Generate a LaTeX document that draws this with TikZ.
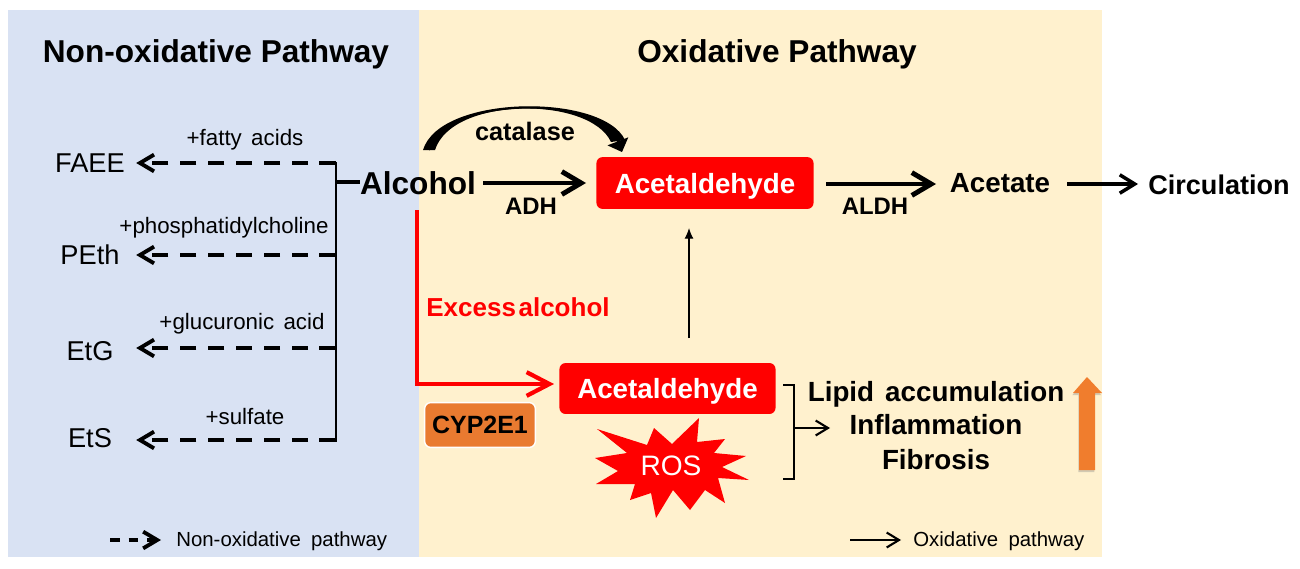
\documentclass[tikz,border=0pt]{standalone}
\usepackage{fontspec}
\setmainfont{Liberation Sans}
\usetikzlibrary{arrows.meta,shadows}
\tikzset{
  >={Straight Barb[length=8pt,width=9.5pt,line width=2.2pt]},
  titletext/.style={font=\bfseries\fontsize{18}{21}\selectfont,inner sep=0},
  metabolite/.style={font=\fontsize{15.5}{18}\selectfont,inner sep=0,minimum width=52.2pt},
  substrate/.style={font=\fontsize{12.7}{15}\selectfont\spaceskip .42em\relax,inner sep=0},
  enzyme/.style={font=\bfseries\fontsize{13.6}{16}\selectfont,inner sep=0},
  mainstep/.style={font=\bfseries\fontsize{15.8}{19}\selectfont,inner sep=0},
  redbox/.style={draw=none,fill=red,rounded corners=3.5pt,text=white,font=\bfseries\fontsize{15.8}{19}\selectfont,inner sep=0},
  legendtext/.style={font=\fontsize{11.6}{14}\selectfont\spaceskip .5em\relax,inner sep=0,anchor=west},
  dashline/.style={line width=2.3pt,dash pattern=on 9.4pt off 6.5pt},
  mainarrow/.style={line width=2.8pt,-{Straight Barb[length=11pt,width=13pt,line width=2.8pt]}},
  thinarrow/.style={line width=1.2pt,-{Straight Barb[length=7pt,width=8.5pt,line width=1.2pt]}},
}
\begin{document}
\begin{tikzpicture}[x=0.02cm,y=-0.02cm]
\useasboundingbox (0,0) rectangle (1300,568);
\fill[white] (0,0) rectangle (1300,568);
\fill[fill={rgb,255:red,217;green,226;blue,243}] (8,10) rectangle (419,557);
\fill[fill={rgb,255:red,255;green,241;blue,206}] (419,10) rectangle (1102,557);

\node[titletext] (titleNon) at (216,54) {Non-oxidative Pathway};
\node[titletext] (titleOx) at (777,54) {Oxidative Pathway};

\node[metabolite] (faee) at (90,163) {FAEE};
\node[metabolite] (peth) at (90,255) {PEth};
\node[metabolite] (etg) at (90,351) {EtG};
\node[metabolite] (ets) at (90,438) {EtS};
\node[substrate] (fatty) at (245,140) {+fatty acids};
\node[substrate] (phos) at (224,228) {+phosphatidylcholine};
\node[substrate] (gluc) at (242,324) {+glucuronic acid};
\node[substrate] (sulf) at (245,417) {+sulfate};

\coordinate (branchA) at (336,163);
\coordinate (branchB) at (336,255);
\coordinate (branchC) at (336,348);
\coordinate (branchD) at (336,440);
\coordinate (branchE) at (336,182);
\draw[line width=1.7pt,line cap=rect] (branchA) -- (branchD);
\draw[dashline,->] (branchA) -- (branchA -| faee.east);
\draw[dashline,->] (branchB) -- (branchB -| peth.east);
\draw[dashline,->] (branchC) -- (branchC -| etg.east);
\draw[dashline,->] (branchD) -- (branchD -| ets.east);

\node[font=\bfseries\fontsize{18}{21}\selectfont,inner sep=0] (alcohol) at (418,183) {Alcohol};
\draw[line width=1.9pt] (alcohol.west |- branchE) -- (branchE);

\node[redbox,minimum width=123.6pt,minimum height=29.5pt,text depth=0pt] (acetTop) at (705,183) {Acetaldehyde};
\node[redbox,minimum width=123pt,minimum height=29pt,text depth=-3.4pt] (acetLow) at (667.5,388.5) {Acetaldehyde};
\node[mainstep] (acetate) at (1000,183) {Acetate};
\node[font=\bfseries\fontsize{15.4}{19}\selectfont,inner sep=0] (circ) at (1219,185) {Circulation};
\node[enzyme] (adh) at (531,206) {ADH};
\node[enzyme] (aldh) at (875,206) {ALDH};
\node[font=\bfseries\fontsize{14.4}{17}\selectfont,inner sep=0] (catalase) at (525,131) {catalase};

\coordinate (alcoholOut) at (483,183);
\coordinate (acetIn) at (586,183);
\draw[mainarrow] (alcoholOut) -- (acetIn);
\coordinate (acetOut) at (826,184);
\coordinate (acetateIn) at (936,184);
\draw[mainarrow] (acetOut) -- (acetateIn);
\coordinate (acetateOut) at (1067,184);
\coordinate (circIn) at (1138,184);
\draw[line width=2pt,-{Straight Barb[length=8.5pt,width=10.5pt,line width=2pt]}] (acetateOut) -- (circIn);

\coordinate (catStart) at (429,150);
\coordinate (catEnd) at (622,152);
\draw[line width=1pt,-{Triangle[length=6.5pt,width=12.5pt]}] (catStart) .. controls (446,95) and (600,95) .. (catEnd);
\fill (423,150) .. controls (440,94) and (603,93) .. (625,140) -- (611,142) .. controls (590,96) and (452,96) .. (435,150) -- cycle;

\coordinate (upStart) at (689,338);
\coordinate (upEnd) at (689,228);
\draw[line width=.6pt,-{Latex[length=6pt,width=5pt]}] (upStart) -- (upEnd);

\coordinate (redStart) at (417,210);
\coordinate (redCorner) at (417,384);
\coordinate (redEnd) at (554,384);
\draw[draw=red,line width=2.4pt,line join=miter,-{Straight Barb[length=13pt,width=13.5pt,line width=2.4pt]}] (redStart) -- (redCorner) -- (redEnd);
\node[font=\bfseries\fontsize{14.8}{18}\selectfont\spaceskip .1em\relax,text=red,inner sep=0] (excess) at (518,307) {Excess alcohol};

\node[draw=white,line width=.8pt,fill={rgb,255:red,233;green,122;blue,48},rounded corners=3.5pt,font=\bfseries\fontsize{14.2}{17}\selectfont,inner sep=0,minimum width=63pt,minimum height=25.5pt] (cyp) at (480,425) {CYP2E1};

\fill[red] (699,418) -- (697,442) -- (725,439) -- (714,453) -- (746,456) -- (722,467) -- (749,480) -- (718,478) -- (725,503) -- (705,490) -- (690,510) -- (673,490) -- (656,518) -- (651,493) -- (630,500) -- (635,484) -- (596,484) -- (618,471) -- (595,458) -- (627,453) -- (597,429) -- (647,445) -- (654,428) -- (672,444) -- cycle;
\node[font=\fontsize{16}{19}\selectfont,text=white,inner sep=0] (ros) at (671,466) {ROS};

\coordinate (brackA) at (783,385);
\coordinate (brackB) at (794,385);
\coordinate (brackC) at (794,479);
\coordinate (brackD) at (783,479);
\coordinate (brackMid) at (794,428);
\coordinate (brackOut) at (830,428);
\draw[line width=1.4pt] (brackA) -- (brackB) -- (brackC) -- (brackD);
\draw[thinarrow] (brackMid) -- (brackOut);

\node[mainstep,font=\bfseries\fontsize{15.8}{19}\selectfont\spaceskip .4em\relax] (lipid) at (936,394) {Lipid accumulation};
\node[mainstep] (inflam) at (936,425) {Inflammation};
\node[mainstep] (fibro) at (936,460) {Fibrosis};

\fill[fill={rgb,255:red,240;green,125;blue,45},drop shadow={shadow xshift=-.4pt,shadow yshift=-1.2pt,opacity=.35}] (1087,377) -- (1102,393) -- (1095,393) -- (1095,470) -- (1079,470) -- (1079,393) -- (1073,393) -- cycle;

\coordinate (legDashA) at (110,540);
\coordinate (legDashB) at (161,540);
\draw[line width=2pt,dash pattern=on 5.6pt off 5pt,->] (legDashA) -- (legDashB);
\node[legendtext] (legNon) at (176,541) {Non-oxidative pathway};
\coordinate (legOxA) at (850,540);
\coordinate (legOxB) at (901,540);
\draw[thinarrow] (legOxA) -- (legOxB);
\node[legendtext] (legOx) at (913,541) {Oxidative pathway};
\end{tikzpicture}
\end{document}
